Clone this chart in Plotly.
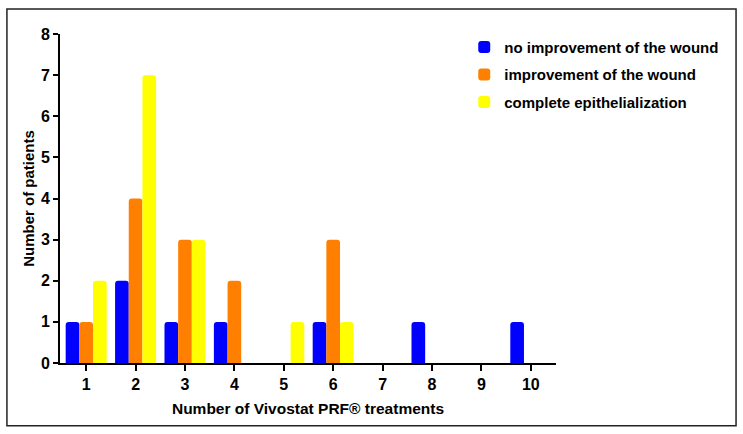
import plotly.graph_objects as go

treatments = [1, 2, 3, 4, 5, 6, 7, 8, 9, 10]
no_improvement = [1, 2, 1, 1, 0, 1, 0, 1, 0, 1]
improvement = [1, 4, 3, 2, 0, 3, 0, 0, 0, 0]
epithelialization = [2, 7, 3, 0, 1, 1, 0, 0, 0, 0]

series = [
    ("no improvement of the wound", no_improvement, "#0000FF"),
    ("improvement of the wound", improvement, "#FF8000"),
    ("complete epithelialization", epithelialization, "#FFFF00"),
]

fig = go.Figure()
for i, (name, vals, color) in enumerate(series):
    fig.add_trace(go.Bar(
        x=treatments,
        y=vals,
        name=f"<b>{name}</b>",
        legendgroup=f"g{i}",
        marker={"color": color, "line": {"width": 0}},
    ))

# outer frame around the whole figure
fig.add_shape(
    type="rect", xref="paper", yref="paper",
    x0=-0.107, x1=1.363, y0=-0.191, y1=1.076,
    line={"color": "#222222", "width": 1.5},
)

fig.update_layout(
    width=743,
    height=434,
    margin={"l": 60, "r": 187, "t": 34, "b": 71},
    plot_bgcolor="white",
    paper_bgcolor="white",
    barmode="group",
    bargap=0.17,
    bargroupgap=0,
    barcornerradius=3,
    font={"family": "Liberation Sans, Arial", "color": "black", "size": 16},
    legend={
        "x": 0.815, "y": 1.01, "xanchor": "left", "yanchor": "top",
        "font": {"size": 15, "family": "Liberation Sans, Arial"},
        "bgcolor": "rgba(0,0,0,0)",
        "tracegroupgap": 5,
        "itemwidth": 30,
    },
    xaxis={
        "range": [0.47, 10.51],
        "tickmode": "array",
        "tickvals": treatments,
        "ticktext": [f"<b>{t}</b>" for t in treatments],
        "ticks": "outside", "ticklen": 6, "tickwidth": 2, "tickcolor": "black",
        "showline": True, "linecolor": "black", "linewidth": 2,
        "showgrid": False, "zeroline": False,
        "title": {"text": "<b>Number of Vivostat PRF® treatments</b>", "standoff": 11,
                  "font": {"size": 15.5}},
    },
    yaxis={
        "range": [0, 8],
        "tickmode": "array",
        "tickvals": list(range(9)),
        "ticktext": [f"<b>{v}</b>" for v in range(9)],
        "ticks": "outside", "ticklen": 5, "tickwidth": 2, "tickcolor": "black",
        "showline": True, "linecolor": "black", "linewidth": 2,
        "showgrid": False, "zeroline": False,
        "title": {"text": "<b>Number of patients</b>", "standoff": 3,
                  "font": {"size": 15}},
    },
)

# drop the default page margin so the figure sits at the window origin
fig.write_html(
    "out.html",
    config={"displayModeBar": False},
    post_script="document.body.style.margin='0';",
)
